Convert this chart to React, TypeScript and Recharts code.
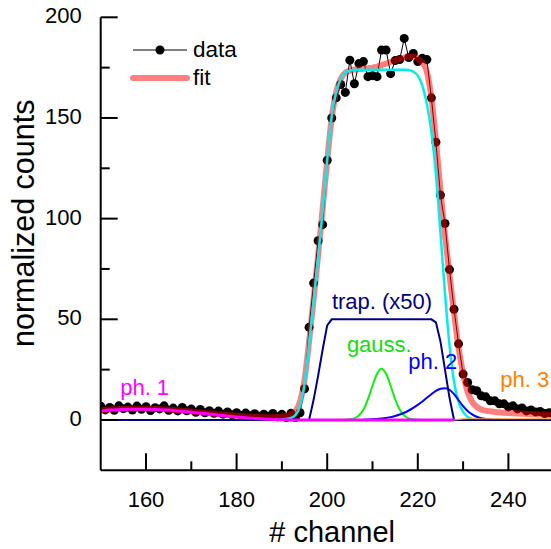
import { LineChart, Line, XAxis, YAxis, ReferenceDot, Legend } from "recharts"

const FONT = "'Liberation Sans', Arial, sans-serif"

const CHANNELS = [
  150, 151, 152, 153, 154, 155, 156, 157, 158, 159,
  160, 161, 162, 163, 164, 165, 166, 167, 168, 169,
  170, 171, 172, 173, 174, 175, 176, 177, 178, 179,
  180, 181, 182, 183, 184, 185, 186, 187, 188, 189,
  190, 191, 192, 193, 194, 195, 196, 197, 198, 199,
  200, 201, 202, 203, 204, 205, 206, 207, 208, 209,
  210, 211, 212, 213, 214, 215, 216, 217, 218, 219,
  220, 221, 222, 223, 224, 225, 226, 227, 228, 229,
  230, 231, 232, 233, 234, 235, 236, 237, 238, 239,
  240, 241, 242, 243, 244, 245, 246, 247, 248, 249,
  250,
]

const X_TICKS = [160, 170, 180, 190, 200, 210, 220, 230, 240, 250]
const X_LABELS = [160, 180, 200, 220, 240]
const Y_TICKS = [0, 25, 50, 75, 100, 125, 150, 175, 200]
const Y_LABELS = [0, 50, 100, 150, 200]

// measured counts, one per channel (150..250)
const DATA = [
  6.8, 5.0, 6.2, 4.8, 7.0, 5.6, 6.4, 4.9, 6.9, 5.3,
  6.6, 4.7, 6.1, 5.5, 7.0, 4.8, 5.9, 4.5, 6.2, 4.6,
  5.4, 3.8, 5.2, 3.6, 4.6, 3.3, 4.4, 2.9, 4.0, 2.6,
  3.6, 2.3, 3.4, 2.1, 3.1, 1.9, 2.9, 1.8, 3.2, 1.6,
  2.8, 1.2, 3.3, 1.2, 3.6, 15.5, 46, 68, 89, 97,
  129, 150, 160, 166.6, 162.7, 178.7, 167, 177, 178, 170.5,
  171, 170.5, 183.7, 183.7, 172, 178.5, 179, 189.5, 180, 182,
  178, 179.6, 179, 160, 138, 111.7, 97.6, 74.7, 55, 37.8,
  22.8, 18.6, 15, 14.5, 12, 11.5, 9.5, 9.5, 8, 8,
  6.5, 7, 5.5, 6, 4.5, 5, 4, 4.2, 3.2, 3.6,
  2.8,
]

// total fit (150..250)
const FIT = [
  5.0, 5.1, 5.2, 5.3, 5.4, 5.5, 5.6, 5.6, 5.6, 5.6,
  5.6, 5.5, 5.5, 5.4, 5.3, 5.1, 5.0, 4.8, 4.6, 4.4,
  4.2, 4.0, 3.8, 3.5, 3.3, 3.1, 2.9, 2.7, 2.5, 2.3,
  2.1, 2.0, 1.8, 1.7, 1.6, 1.5, 1.4, 1.4, 1.4, 1.5,
  1.6, 2.0, 2.8, 4.5, 9, 20, 39, 60, 82, 105,
  129, 150, 163, 169.5, 172.5, 173.5, 174, 174.2, 174.4, 174.7,
  175, 175.5, 176.2, 177, 177.8, 178.6, 179.4, 180, 180.5, 180.5,
  179.5, 177.5, 173, 160, 139, 114, 92, 72, 53, 36,
  23, 14, 9, 6.5, 5.2, 4.6, 4.3, 4.0, 3.8, 3.6,
  3.4, 3.3, 3.2, 3.1, 3.0, 2.9, 2.8, 2.7, 2.7, 2.6,
  2.6,
]

// trapezoid component (x50), 150..250
const TRAP = [
  0, 0, 0, 0, 0, 0, 0, 0, 0, 0,
  0, 0, 0, 0, 0, 0, 0, 0, 0, 0,
  0, 0, 0, 0, 0, 0, 0, 0, 0, 0,
  0, 0, 0, 0, 0, 0, 0, 0, 0, 0,
  0, 0, 0, 0, 0, 0, 0, 10, 22, 35,
  47, 50, 50, 50, 50, 50, 50, 50, 50, 50,
  50, 50, 50, 50, 50, 50, 50, 50, 50, 50,
  50, 50, 50, 50, 48.5, 39, 25, 11, 0, 0,
  0, 0, 0, 0, 0, 0, 0, 0, 0, 0,
  0, 0, 0, 0, 0, 0, 0, 0, 0, 0,
  0,
]

// convolved trapezoid (cyan), from channel 188
const CONV_FROM = 188
const CONV = [
  0, 0.1,
  0.2, 0.5, 1, 2.5, 7, 18, 38, 59, 81, 104,
  129, 151, 163, 169.5, 172.5, 173.5, 174, 174, 174, 174,
  174, 174, 174, 174, 174, 174, 174, 174, 173.8, 173,
  171, 166, 157, 143, 122, 93, 63, 37, 19, 9,
  4, 1.5, 0.5, 0,
]

const GAUSS_FROM = 203
const GAUSS = [0, 0.1, 0.3, 0.8, 2.2, 5.2, 10.4, 17, 23, 25.5, 23, 17, 10.4, 5.2, 2.2, 0.8, 0.3, 0.1, 0]

const PH1_FROM = 150
const PH1 = [
  4.5, 4.7, 4.9, 5.0, 5.1, 5.2, 5.3, 5.3, 5.3, 5.3,
  5.3, 5.3, 5.2, 5.1, 5.0, 4.9, 4.7, 4.5, 4.3, 4.1,
  3.9, 3.6, 3.4, 3.2, 2.9, 2.7, 2.4, 2.2, 1.9, 1.7,
  1.5, 1.3, 1.1, 0.9, 0.75, 0.6, 0.45, 0.35, 0.25, 0.15,
  0.1, 0.05, 0.03, 0, 0, 0, 0, 0, 0, 0,
  0, 0, 0, 0, 0, 0, 0, 0, 0, 0,
  0, 0, 0, 0, 0, 0, 0, 0, 0, 0,
  0, 0, 0, 0, 0, 0, 0, 0, 0,
]

const PH2_FROM = 208
const PH2 = [
  0.1, 0.2, 0.3, 0.5, 0.7, 1.0, 1.4, 2.0, 2.7, 3.6,
  4.7, 6.0, 7.5, 9.2, 11, 12.8, 14.4, 15.5, 15.8, 15.0,
  12.8, 9.8, 6.9, 4.5, 2.8, 1.6, 0.9, 0.5, 0.25, 0.1,
  0.05, 0, 0,
]

const PH3_FROM = 228
const PH3 = [0, 0.3, 0.5, 0.6, 0.6, 0.6, 0.6, 0.6, 0.6, 0.6, 0.6, 0.6, 0.6, 0.6, 0.6, 0.6, 0.6, 0.6, 0.6, 0.6, 0.6, 0.6, 0.6]

const NOTES = [
  { text: "trap. (x50)", x: 212.1, y: 55, color: "#000080", anchor: "middle" },
  { text: "gauss.", x: 211.5, y: 34, color: "#11dd11", anchor: "middle" },
  { text: "ph. 2", x: 223.3, y: 25.2, color: "#0000ff", anchor: "middle" },
  { text: "ph. 1", x: 154.3, y: 12.4, color: "#ff00ff", anchor: "start" },
  { text: "ph. 3", x: 238.2, y: 16.5, color: "#ff8000", anchor: "start" },
]

const LEGEND_NAMES = ["data", "fit"]

const rows = CHANNELS.map((x, i) => ({ x, data: DATA[i], fit: FIT[i], trap: TRAP[i] }))
const part = (from: number, values: number[]) =>
  values.map((v, i) => ({ x: CHANNELS[CHANNELS.indexOf(from) + i], v }))

function BottomTick(props: any) {
  const { x, y, payload } = props
  const major = X_LABELS.includes(payload.value)
  return (
    <g>
      <line x1={x} x2={x} y1={y} y2={y - (major ? 17 : 9)} stroke="#000" strokeWidth={2} />
      {major && (
        <text x={x} y={y + 36.5} textAnchor="middle" fontSize={22} fontFamily={FONT} fill="#000">
          {payload.value}
        </text>
      )}
    </g>
  )
}

function TopTick(props: any) {
  const { x, y, payload } = props
  const major = X_LABELS.includes(payload.value)
  return <line x1={x} x2={x} y1={y} y2={y + (major ? 17 : 9)} stroke="#000" strokeWidth={2} />
}

function LeftTick(props: any) {
  const { x, y, payload } = props
  const major = Y_LABELS.includes(payload.value)
  return (
    <g>
      <line x1={x} x2={x + (major ? 17 : 9)} y1={y} y2={y} stroke="#000" strokeWidth={2} />
      {major && (
        <text x={x - 19} y={y + 6} textAnchor="end" fontSize={22} fontFamily={FONT} fill="#000">
          {payload.value}
        </text>
      )}
    </g>
  )
}

function RightTick(props: any) {
  const { x, y, payload } = props
  const major = Y_LABELS.includes(payload.value)
  return <line x1={x} x2={x - (major ? 17 : 9)} y1={y} y2={y} stroke="#000" strokeWidth={2} />
}

function LegendBox(props: any) {
  const items = (props.payload ?? []).filter((p: any) => LEGEND_NAMES.includes(p.value))
  return (
    <svg width={140} height={60} style={{ display: "block", overflow: "visible" }}>
      {items.map((p: any, i: number) => {
        const cy = 14 + i * 28
        const isData = p.value === "data"
        return (
          <g key={p.value}>
            <line
              x1={5}
              x2={59}
              y1={cy}
              y2={cy}
              stroke={p.color}
              strokeOpacity={isData ? 1 : 0.5}
              strokeWidth={isData ? 1 : 6}
              strokeLinecap={isData ? "butt" : "round"}
            />
            {isData && <circle cx={32} cy={cy} r={4.5} fill="#000" />}
            <text x={65} y={cy + 7} fontSize={22.5} fontFamily={FONT} fill="#000">
              {p.value}
            </text>
          </g>
        )
      })}
    </svg>
  )
}

export default function App() {
  return (
    <div style={{ position: "absolute", left: 0, top: 0, width: 551, height: 549, overflow: "hidden", fontFamily: FONT }}>
      {/* data points drawn as path markers so that they stay under the fit */}
      <svg width={0} height={0} style={{ position: "absolute" }}>
        <defs>
          <marker id="dataDot" markerWidth={10} markerHeight={10} refX={5} refY={5} markerUnits="userSpaceOnUse" overflow="visible">
            <circle cx={5} cy={5} r={4.5} fill="#000" />
          </marker>
        </defs>
      </svg>
      <LineChart width={568} height={549} data={rows} margin={{ top: 17.3, right: 14.3, bottom: 0, left: 0 }}>
        <XAxis
          dataKey="x"
          type="number"
          domain={[150, 250]}
          allowDataOverflow
          ticks={X_TICKS}
          interval={0}
          height={78.7}
          tickSize={0}
          tickMargin={0}
          tickLine={false}
          axisLine={{ stroke: "#000", strokeWidth: 2 }}
          tick={(p: any) => <BottomTick {...p} />}
          label={(p: any) => (
            <text
              x={p.viewBox.x + p.viewBox.width / 2 + 5}
              y={p.viewBox.y + 71.4}
              textAnchor="middle"
              fontSize={29}
              fontFamily={FONT}
              fill="#000"
            >
              # channel
            </text>
          )}
        />
        <XAxis
          xAxisId="top"
          orientation="top"
          dataKey="x"
          type="number"
          domain={[150, 250]}
          allowDataOverflow
          ticks={X_TICKS}
          interval={0}
          height={0}
          tickSize={0}
          tickMargin={0}
          tickLine={false}
          axisLine={{ stroke: "#000", strokeWidth: 2 }}
          tick={(p: any) => <TopTick {...p} />}
        />
        <YAxis
          type="number"
          domain={[-25, 200]}
          allowDataOverflow
          ticks={Y_TICKS}
          interval={0}
          width={100.7}
          tickSize={0}
          tickMargin={0}
          tickLine={false}
          axisLine={{ stroke: "#000", strokeWidth: 2 }}
          tick={(p: any) => <LeftTick {...p} />}
          label={(p: any) => {
            const x = p.viewBox.x + 34
            const y = p.viewBox.y + 206
            return (
              <text x={x} y={y} transform={`rotate(-90, ${x}, ${y})`} textAnchor="middle" fontSize={30.5} fontFamily={FONT} fill="#000">
                normalized counts
              </text>
            )
          }}
        />
        <YAxis
          yAxisId="right"
          orientation="right"
          type="number"
          domain={[-25, 200]}
          allowDataOverflow
          ticks={Y_TICKS}
          interval={0}
          width={0}
          tickSize={0}
          tickMargin={0}
          tickLine={false}
          axisLine={{ stroke: "#000", strokeWidth: 2 }}
          tick={(p: any) => <RightTick {...p} />}
        />

        <Line
          name="data"
          dataKey="data"
          type="linear"
          stroke="#000000"
          strokeWidth={1}
          dot={false}
          markerStart="url(#dataDot)"
          markerMid="url(#dataDot)"
          markerEnd="url(#dataDot)"
          activeDot={false}
          isAnimationActive={false}
        />
        <Line
          name="fit"
          dataKey="fit"
          type="monotone"
          stroke="#ff0000"
          strokeOpacity={0.5}
          strokeWidth={6}
          dot={false}
          activeDot={false}
          isAnimationActive={false}
        />
        <Line data={part(CONV_FROM, CONV)} dataKey="v" name="conv" legendType="none" type="monotone" stroke="#00eeee" strokeWidth={2.5} dot={false} activeDot={false} isAnimationActive={false} />
        <Line data={part(GAUSS_FROM, GAUSS)} dataKey="v" name="gauss" legendType="none" type="monotone" stroke="#11ee11" strokeWidth={2} dot={false} activeDot={false} isAnimationActive={false} />
        <Line data={part(PH2_FROM, PH2)} dataKey="v" name="ph2" legendType="none" type="monotone" stroke="#0000ff" strokeWidth={2} dot={false} activeDot={false} isAnimationActive={false} />
        <Line dataKey="trap" name="trap" legendType="none" type="linear" stroke="#000080" strokeWidth={2} dot={false} activeDot={false} isAnimationActive={false} />
        <Line data={part(PH1_FROM, PH1)} dataKey="v" name="ph1" legendType="none" type="monotone" stroke="#ff00ff" strokeWidth={3} dot={false} activeDot={false} isAnimationActive={false} />
        <Line data={part(PH3_FROM, PH3)} dataKey="v" name="ph3" legendType="none" type="monotone" stroke="#ff9933" strokeWidth={1.2} dot={false} activeDot={false} isAnimationActive={false} />

        {NOTES.map((n) => (
          <ReferenceDot
            key={n.text}
            x={n.x}
            y={n.y}
            r={0}
            shape={(p: any) => (
              <text x={p.cx} y={p.cy} textAnchor={n.anchor as any} fontSize={22} fontFamily={FONT} fill={n.color}>
                {n.text}
              </text>
            )}
          />
        ))}

        <Legend
          layout="vertical"
          align="center"
          verticalAlign="middle"
          wrapperStyle={{ left: 128, top: 36, width: 140, height: 60 }}
          content={(p: any) => <LegendBox {...p} />}
        />
      </LineChart>
    </div>
  )
}
